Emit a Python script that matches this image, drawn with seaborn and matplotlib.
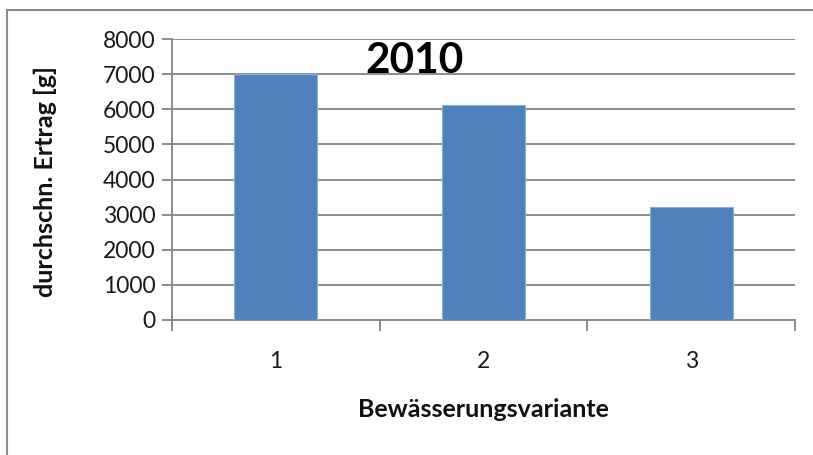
import numpy as np
import pandas as pd
import matplotlib
matplotlib.use('Agg')
from matplotlib import pyplot as plt
from matplotlib.patches import Rectangle
import seaborn as sns

# data
variants = ['1', '2', '3']
yields = [7000, 6130, 3210]
yticks = [0, 1000, 2000, 3000, 4000, 5000, 6000, 7000, 8000]

sns.set_theme(style='white')
plt.rcParams['font.family'] = ['Lato', 'DejaVu Sans']

df = pd.DataFrame({'variante': variants, 'ertrag': yields})

fig = plt.figure(figsize=(8.13, 4.55), dpi=100)
ax = fig.add_axes([172 / 813, 1 - 320 / 455, (795 - 172) / 813, (320 - 39) / 455])

sns.barplot(data=df, x='variante', y='ertrag', color='#4F81BD', width=0.4,
            saturation=1, edgecolor='#8EAEDA', linewidth=0.8, ax=ax, zorder=3)

ax.set_xlim(-0.5, 2.5)
ax.set_ylim(0, 8000)
ax.set_yticks(yticks)
ax.yaxis.grid(True, color='#8C8C8C', linewidth=1.4, zorder=0)
ax.set_axisbelow(True)

for side in ['top', 'right']:
    ax.spines[side].set_visible(False)
for side in ['left', 'bottom']:
    ax.spines[side].set_color('#8C8C8C')
    ax.spines[side].set_linewidth(1.4)

# category boundary ticks like Excel
ax.set_xticks(np.arange(-0.5, 3, 1), minor=True)
ax.tick_params(axis='x', which='minor', length=8, width=1.4, color='#8C8C8C', direction='out', bottom=True)
ax.tick_params(axis='x', which='major', length=0, pad=22, labelsize=16.5, labelcolor='#1a1a1a')
ax.tick_params(axis='y', which='major', length=7, width=1.4, color='#8C8C8C', direction='out', left=True,
               pad=5, labelsize=16.5, labelcolor='#1a1a1a')

ax.set_xlabel('Bewässerungsvariante', fontsize=18, fontweight='bold', color='#111111')
ax.set_ylabel('durchschn. Ertrag [g]', fontsize=18, fontweight='bold', color='#111111')
ax.xaxis.set_label_coords(0.5, -0.32)
ax.yaxis.set_label_coords(-0.204, 0.493)
ax.xaxis.label.set_va('center')
ax.yaxis.label.set_va('center')

ax.text(0.39, 0.92, '2010', transform=ax.transAxes, ha='center', va='center',
        fontsize=30.5, fontweight='bold', color='black')

# outer chart frame (cropped at right and bottom)
fig.patches.append(Rectangle((7 / 813, -0.1), 1.2, 1 - 10 / 455 + 0.1, transform=fig.transFigure,
                             fill=False, edgecolor='#8C8C8C', linewidth=1.5))

fig.savefig('out.png', dpi=100)
